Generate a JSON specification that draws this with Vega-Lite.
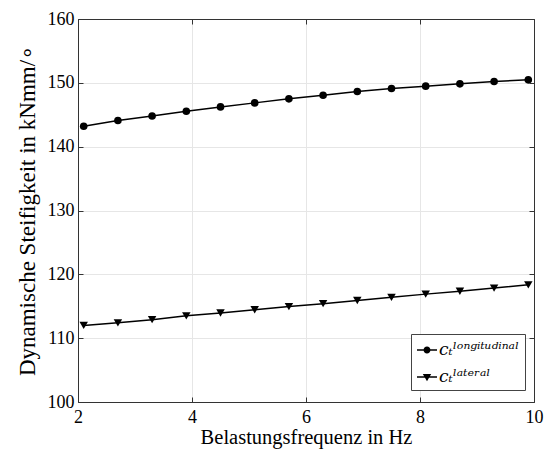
{
  "$schema": "https://vega.github.io/schema/vega-lite/v6.json",
  "width": 456,
  "height": 383,
  "autosize": "none",
  "padding": {"left": 78, "top": 19, "right": 13, "bottom": 47},
  "background": "white",
  "config": {
    "view": {"stroke": null},
    "font": "Liberation Serif",
    "axis": {
      "labelFont": "Liberation Serif",
      "titleFont": "Liberation Serif",
      "labelFontSize": 18,
      "titleFontSize": 22,
      "titleFontWeight": "normal",
      "labelColor": "#000",
      "titleColor": "#000",
      "domainColor": "#333",
      "tickColor": "#333",
      "gridColor": "#e6e6e6",
      "domainWidth": 1,
      "tickSize": -5
    }
  },
  "data": {
    "values": [
      {"f": 2.1, "s": 143.2, "series": "longitudinal"},
      {"f": 2.7, "s": 144.1, "series": "longitudinal"},
      {"f": 3.3, "s": 144.8, "series": "longitudinal"},
      {"f": 3.9, "s": 145.55, "series": "longitudinal"},
      {"f": 4.5, "s": 146.23, "series": "longitudinal"},
      {"f": 5.1, "s": 146.86, "series": "longitudinal"},
      {"f": 5.7, "s": 147.49, "series": "longitudinal"},
      {"f": 6.3, "s": 148.06, "series": "longitudinal"},
      {"f": 6.9, "s": 148.64, "series": "longitudinal"},
      {"f": 7.5, "s": 149.11, "series": "longitudinal"},
      {"f": 8.1, "s": 149.48, "series": "longitudinal"},
      {"f": 8.7, "s": 149.84, "series": "longitudinal"},
      {"f": 9.3, "s": 150.21, "series": "longitudinal"},
      {"f": 9.9, "s": 150.47, "series": "longitudinal"},
      {"f": 2.1, "s": 112.0, "series": "lateral"},
      {"f": 2.7, "s": 112.4, "series": "lateral"},
      {"f": 3.3, "s": 112.9, "series": "lateral"},
      {"f": 3.9, "s": 113.5, "series": "lateral"},
      {"f": 4.5, "s": 113.95, "series": "lateral"},
      {"f": 5.1, "s": 114.45, "series": "lateral"},
      {"f": 5.7, "s": 114.95, "series": "lateral"},
      {"f": 6.3, "s": 115.4, "series": "lateral"},
      {"f": 6.9, "s": 115.9, "series": "lateral"},
      {"f": 7.5, "s": 116.4, "series": "lateral"},
      {"f": 8.1, "s": 116.9, "series": "lateral"},
      {"f": 8.7, "s": 117.35, "series": "lateral"},
      {"f": 9.3, "s": 117.85, "series": "lateral"},
      {"f": 9.9, "s": 118.35, "series": "lateral"}
    ]
  },
  "layer": [
    {
      "mark": {"type": "line", "color": "black", "strokeWidth": 1.5},
      "encoding": {
        "x": {"field": "f", "type": "quantitative", "scale": {"domain": [2, 10], "nice": false, "zero": false},
              "axis": {"orient": "bottom", "title": "Belastungsfrequenz in Hz", "titleFontSize": 20.5, "values": [2, 4, 6, 8, 10], "grid": true, "labelPadding": 11, "titleY": 41, "titleBaseline": "alphabetic", "labelFlush": false}},
        "y": {"field": "s", "type": "quantitative", "scale": {"domain": [100, 160], "nice": false, "zero": false},
              "axis": {"orient": "left", "title": "Dynamische Steifigkeit in kNmm/∘", "titleFontSize": 23, "values": [100, 110, 120, 130, 140, 150, 160], "grid": true, "labelPadding": 9, "titlePadding": 8, "labelFlush": false}},
        "detail": {"field": "series"}
      }
    },
    {
      "transform": [{"filter": "datum.series === 'longitudinal'"}],
      "mark": {"type": "point", "filled": true, "color": "black", "size": 58, "opacity": 1, "shape": "circle"},
      "encoding": {
        "x": {"field": "f", "type": "quantitative", "scale": {"domain": [2, 10], "nice": false, "zero": false},
              "axis": {"orient": "top", "title": null, "labels": false, "grid": false, "values": [2, 4, 6, 8, 10]}},
        "y": {"field": "s", "type": "quantitative", "scale": {"domain": [100, 160], "nice": false, "zero": false},
              "axis": {"orient": "right", "title": null, "labels": false, "grid": false, "values": [100, 110, 120, 130, 140, 150, 160]}}
      }
    },
    {
      "transform": [{"filter": "datum.series === 'lateral'"}],
      "mark": {"type": "point", "filled": true, "color": "black", "size": 72, "opacity": 1, "shape": "triangle-down"},
      "encoding": {
        "x": {"field": "f", "type": "quantitative", "axis": null},
        "y": {"field": "s", "type": "quantitative", "axis": null}
      }
    },
    {
      "mark": {"type": "point", "filled": true, "color": "black", "size": 400, "opacity": 0},
      "encoding": {
        "x": {"field": "f", "type": "quantitative", "axis": null},
        "y": {"field": "s", "type": "quantitative", "axis": null},
        "shape": {"field": "series", "type": "nominal",
                  "scale": {"domain": ["longitudinal", "lateral"], "range": ["M-1,-0.075H1V0.075H-1ZM0.35,0A0.35,0.35 0 1,1 -0.35,0A0.35,0.35 0 1,1 0.35,0Z", "M-1,-0.075H1V0.075H-1ZM-0.42,-0.3H0.42L0,0.42Z"]},
                  "legend": {
                    "orient": "none", "legendX": 333, "legendY": 315, "title": null,
                    "strokeColor": "#444", "fillColor": "white", "padding": 5,
                    "symbolOpacity": 1, "symbolFillColor": "black", "symbolSize": 400,
                    "labelFont": "DejaVu Serif", "labelFontSize": 17, "labelFontStyle": "italic", "labelColor": "black",
                    "rowPadding": 8, "labelOffset": 1,
                    "labelExpr": "datum.value === 'longitudinal' ? 'cₜˡᵒⁿᵍⁱᵗᵘᵈⁱⁿᵃˡ' : 'cₜˡᵃᵗᵉʳᵃˡ'"
                  }}
      }
    }
  ],
  "resolve": {"axis": {"x": "independent", "y": "independent"}}
}
